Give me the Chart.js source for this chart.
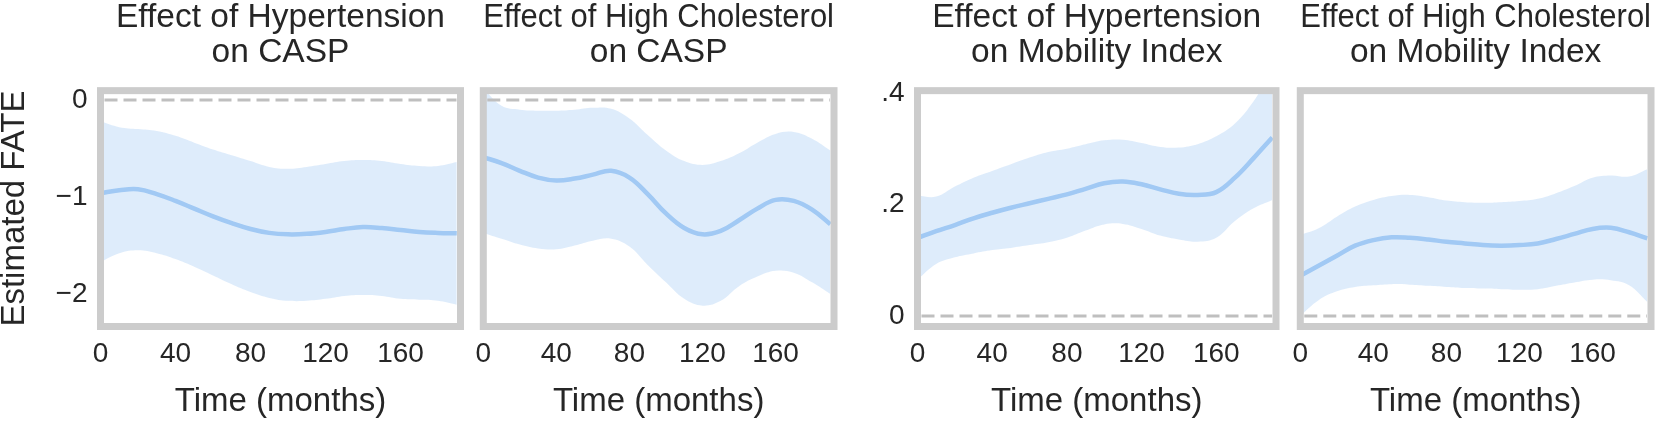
<!DOCTYPE html>
<html>
<head>
<meta charset="utf-8">
<script src="https://cdn.jsdelivr.net/npm/chart.js@4.4.1/dist/chart.umd.min.js"></script>
<style>
  html, body { margin: 0; padding: 0; background: #fff; }
  body { width: 1661px; height: 422px; position: relative; overflow: hidden; }
  canvas { position: absolute; top: -2px; }
</style>
</head>
<body>
<canvas id="p1" width="470" height="424" style="left:0px"></canvas>
<canvas id="p2" width="380" height="424" style="left:465px"></canvas>
<canvas id="p3" width="450" height="424" style="left:840px"></canvas>
<canvas id="p4" width="379" height="424" style="left:1282px"></canvas>
<script>
// time axis (months) and tick labels
const months = [0, 10, 20, 30, 40, 50, 60, 70, 80, 90, 100, 110, 120, 130, 140, 150, 160, 170, 180, 190];
const xTicks = [0, 40, 80, 120, 160];
const caspTicks = [-2, -1, 0];
const mobilityTicks = [0, 0.2, 0.4];

// Hypertension -> CASP
const htCaspMean  = [-0.96, -0.93, -0.92, -0.97, -1.04, -1.12, -1.20, -1.27, -1.33, -1.37, -1.385, -1.38, -1.36, -1.33, -1.31, -1.32, -1.34, -1.36, -1.37, -1.375];
const htCaspUpper = [-0.22, -0.28, -0.30, -0.32, -0.37, -0.44, -0.51, -0.57, -0.63, -0.69, -0.71, -0.69, -0.66, -0.63, -0.62, -0.63, -0.66, -0.68, -0.68, -0.64];
const htCaspLower = [-1.67, -1.58, -1.55, -1.58, -1.64, -1.72, -1.81, -1.90, -1.98, -2.04, -2.07, -2.07, -2.05, -2.02, -2.01, -2.02, -2.05, -2.06, -2.07, -2.11];

// High cholesterol -> CASP
const hcCaspMean  = [-0.59, -0.65, -0.73, -0.80, -0.83, -0.81, -0.77, -0.73, -0.80, -0.97, -1.17, -1.32, -1.385, -1.35, -1.24, -1.12, -1.03, -1.04, -1.13, -1.28];
const hcCaspUpper = [0.12, -0.06, -0.10, -0.11, -0.11, -0.10, -0.08, -0.09, -0.19, -0.36, -0.52, -0.63, -0.67, -0.63, -0.55, -0.44, -0.35, -0.33, -0.40, -0.52];
const hcCaspLower = [-1.37, -1.43, -1.49, -1.53, -1.54, -1.50, -1.45, -1.43, -1.51, -1.70, -1.88, -2.05, -2.12, -2.07, -1.92, -1.82, -1.76, -1.78, -1.88, -2.00];

// Hypertension -> Mobility Index
const htMobMean  = [0.140, 0.152, 0.163, 0.175, 0.185, 0.194, 0.202, 0.210, 0.218, 0.228, 0.238, 0.241, 0.236, 0.227, 0.219, 0.217, 0.222, 0.248, 0.283, 0.320];
const htMobUpper = [0.216, 0.214, 0.232, 0.248, 0.260, 0.272, 0.284, 0.294, 0.300, 0.308, 0.315, 0.316, 0.310, 0.303, 0.302, 0.308, 0.322, 0.345, 0.385, 0.440];
const htMobLower = [0.065, 0.093, 0.105, 0.112, 0.118, 0.122, 0.127, 0.132, 0.140, 0.153, 0.164, 0.165, 0.156, 0.144, 0.137, 0.133, 0.140, 0.170, 0.193, 0.208];

// High cholesterol -> Mobility Index
const hcMobMean  = [0.072, 0.090, 0.108, 0.126, 0.136, 0.141, 0.140, 0.137, 0.133, 0.130, 0.127, 0.126, 0.127, 0.130, 0.138, 0.147, 0.156, 0.158, 0.150, 0.139];
const hcMobUpper = [0.145, 0.157, 0.178, 0.196, 0.208, 0.215, 0.217, 0.213, 0.207, 0.204, 0.203, 0.204, 0.206, 0.210, 0.220, 0.233, 0.248, 0.252, 0.250, 0.263];
const hcMobLower = [0.000, 0.028, 0.044, 0.052, 0.055, 0.057, 0.056, 0.054, 0.052, 0.050, 0.049, 0.048, 0.047, 0.048, 0.054, 0.060, 0.065, 0.064, 0.055, 0.025];

const family = '"Liberation Sans", Arial, sans-serif';
const ink = '#262626';
const lineColor = '#a1c9f4';
const bandColor = 'rgba(161, 201, 244, 0.35)';

const toPoints = vals => months.map((m, i) => ({ x: m, y: vals[i] }));

// grey box round the plot area and dashed zero line
const framePlugin = {
    id: 'frame',
    afterDatasetsDraw(chart) {
        const { ctx, chartArea: a, scales } = chart;
        const y0 = scales.y.getPixelForValue(0);
        ctx.save();
        ctx.strokeStyle = '#bfbfbf';
        ctx.lineWidth = 3;
        ctx.setLineDash([13, 6]);
        ctx.beginPath();
        ctx.moveTo(a.left + 4, y0);
        ctx.lineTo(a.right - 4, y0);
        ctx.stroke();
        ctx.setLineDash([]);
        ctx.strokeStyle = '#cccccc';
        ctx.lineWidth = 7;
        ctx.strokeRect(a.left, a.top, a.right - a.left, a.bottom - a.top);
        ctx.restore();
    }
};

function makePanel(id, p) {
    new Chart(document.getElementById(id), {
        type: 'line',
        data: {
            datasets: [
                { data: toPoints(p.upper), fill: '+1', backgroundColor: bandColor, borderColor: 'rgba(0,0,0,0)', borderWidth: 0, pointRadius: 0, tension: 0.4 },
                { data: toPoints(p.lower), fill: false, borderColor: 'rgba(0,0,0,0)', borderWidth: 0, pointRadius: 0, tension: 0.4 },
                { data: toPoints(p.mean), fill: false, borderColor: lineColor, borderWidth: 4.5, pointRadius: 0, tension: 0.4 }
            ]
        },
        options: {
            responsive: false,
            animation: false,
            events: [],
            layout: { padding: { left: p.padLeft, right: p.padRight, top: 0, bottom: 0 } },
            plugins: {
                legend: { display: false },
                tooltip: { enabled: false },
                title: {
                    display: true,
                    text: p.title,
                    fullSize: false,
                    color: ink,
                    font: { family, size: 33.5, weight: 'normal', lineHeight: 1.05 },
                    padding: { top: 2.4, bottom: 19.9 }
                }
            },
            scales: {
                x: {
                    type: 'linear',
                    min: 0,
                    max: 192,
                    grid: { display: false, drawTicks: false },
                    border: { display: false },
                    afterBuildTicks: s => { s.ticks = xTicks.map(v => ({ value: v })); },
                    afterFit: s => { s.height = 95.5; },
                    ticks: { color: ink, font: { family, size: 28 }, padding: 10.5, maxRotation: 0, autoSkip: false },
                    title: { display: true, text: 'Time (months)', color: ink, font: { family, size: 33 }, padding: { top: 0, bottom: 0 } }
                },
                y: {
                    display: p.showY,
                    min: p.yMin,
                    max: p.yMax,
                    grid: { display: false, drawTicks: false },
                    border: { display: false },
                    afterBuildTicks: s => { s.ticks = p.yTicks.map(v => ({ value: v })); },
                    afterFit: s => { s.width = p.yWidth; },
                    ticks: { color: ink, font: { family, size: 28 }, padding: 13, callback: p.fmt },
                    title: { display: !!p.yTitle, text: p.yTitle || '', color: ink, font: { family, size: 33, lineHeight: 0.9 }, padding: 0 }
                }
            }
        },
        plugins: [framePlugin]
    });
}

const caspFmt = v => (v === 0 ? '0' : '\u2212' + Math.abs(v));
const mobFmt = v => (v === 0 ? '0' : String(v).replace('0.', '.'));

makePanel('p1', {
    title: ['Effect of Hypertension', 'on CASP'],
    mean: htCaspMean, upper: htCaspUpper, lower: htCaspLower,
    yMin: -2.335, yMax: 0.096, yTicks: caspTicks, fmt: caspFmt,
    showY: true, yWidth: 100.5, yTitle: 'Estimated FATE', padLeft: 0, padRight: 9.5
});
makePanel('p2', {
    title: ['Effect of High Cholesterol', 'on CASP'],
    mean: hcCaspMean, upper: hcCaspUpper, lower: hcCaspLower,
    yMin: -2.335, yMax: 0.096, yTicks: caspTicks, fmt: caspFmt,
    showY: false, yWidth: 0, padLeft: 10, padRight: 11
});
makePanel('p3', {
    title: ['Effect of Hypertension', 'on Mobility Index'],
    mean: htMobMean, upper: htMobUpper, lower: htMobLower,
    yMin: -0.019, yMax: 0.404, yTicks: mobilityTicks, fmt: mobFmt,
    showY: true, yWidth: 77.5, padLeft: 0, padRight: 14
});
makePanel('p4', {
    title: ['Effect of High Cholesterol', 'on Mobility Index'],
    mean: hcMobMean, upper: hcMobUpper, lower: hcMobLower,
    yMin: -0.019, yMax: 0.404, yTicks: mobilityTicks, fmt: mobFmt,
    showY: false, yWidth: 0, padLeft: 10, padRight: 10
});
</script>
</body>
</html>
